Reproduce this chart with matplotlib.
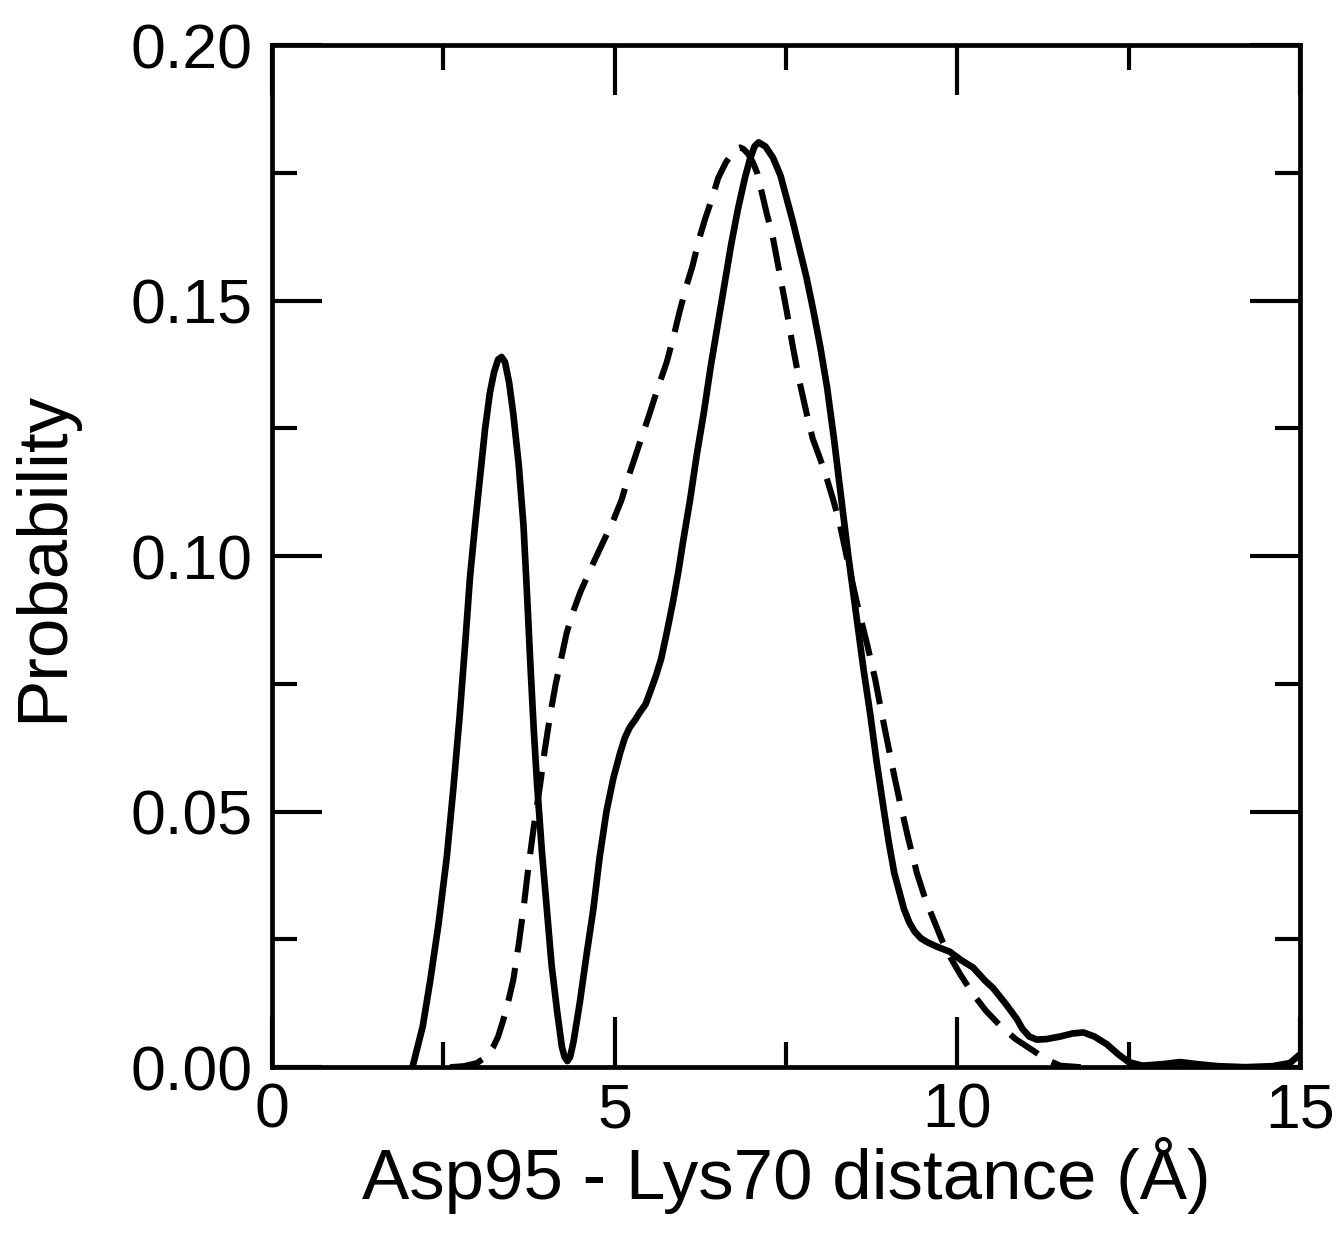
import matplotlib
matplotlib.use("Agg")
import matplotlib.pyplot as plt
from matplotlib.ticker import MultipleLocator

plt.rcParams['font.family'] = ['Liberation Sans', 'DejaVu Sans']

# solid curve
solid_x = [2.05, 2.2, 2.31, 2.43, 2.55, 2.65, 2.74, 2.82, 2.89, 2.97, 3.04, 3.11, 3.18, 3.24,
           3.30, 3.35, 3.40, 3.46, 3.52, 3.60, 3.67, 3.72, 3.77, 3.82, 3.87, 3.94, 4.01, 4.08,
           4.16, 4.23, 4.27, 4.31, 4.35, 4.40, 4.49, 4.59, 4.69, 4.78, 4.88, 4.98, 5.08, 5.15,
           5.22, 5.30, 5.37, 5.45, 5.52, 5.60, 5.68, 5.76, 5.85, 5.93, 6.00, 6.10, 6.20, 6.30,
           6.40, 6.50, 6.60, 6.70, 6.80, 6.90, 6.97, 7.04, 7.10, 7.20, 7.31, 7.42, 7.51, 7.60,
           7.70, 7.80, 7.90, 8.00, 8.10, 8.20, 8.30, 8.41, 8.53, 8.63, 8.73, 8.82, 8.92, 9.00,
           9.08, 9.16, 9.22, 9.30, 9.38, 9.47, 9.57, 9.70, 9.89, 10.05, 10.23, 10.40, 10.52,
           10.70, 10.87, 10.95, 11.05, 11.16, 11.30, 11.50, 11.68, 11.84, 12.0, 12.18, 12.35,
           12.5, 12.7, 13.0, 13.25, 13.5, 13.8, 14.2, 14.6, 14.85, 15.0]
solid_y = [0.0, 0.008, 0.017, 0.028, 0.041, 0.055, 0.069, 0.083, 0.096, 0.107, 0.116, 0.125, 0.132, 0.136,
           0.1385, 0.139, 0.138, 0.134, 0.128, 0.118, 0.106, 0.093, 0.079, 0.066, 0.055, 0.042, 0.031, 0.020,
           0.011, 0.004, 0.002, 0.0012, 0.002, 0.005, 0.0125, 0.022, 0.031, 0.041, 0.050, 0.0565, 0.0615, 0.0645,
           0.0665, 0.068, 0.0695, 0.071, 0.0735, 0.0765, 0.080, 0.085, 0.091, 0.097, 0.103, 0.111, 0.120, 0.128,
           0.137, 0.145, 0.153, 0.161, 0.168, 0.174, 0.1775, 0.1802, 0.181, 0.1802, 0.178, 0.1745, 0.170, 0.1655,
           0.160, 0.1545, 0.148, 0.141, 0.133, 0.123, 0.112, 0.100, 0.088, 0.078, 0.069, 0.060, 0.051, 0.044,
           0.038, 0.034, 0.031, 0.0283, 0.0265, 0.0252, 0.0244, 0.0236, 0.0226, 0.021, 0.0195, 0.017, 0.0155,
           0.0125, 0.0094, 0.0075, 0.006, 0.0054, 0.0055, 0.006, 0.0066, 0.0068, 0.006, 0.0045, 0.0025,
           0.001, 0.0003, 0.0006, 0.001, 0.0006, 0.0002, 0.0, 0.0002, 0.0008, 0.0025]

# dashed curve
dash_x = [2.6, 2.8, 2.99, 3.12, 3.23, 3.30, 3.37, 3.45, 3.52, 3.60, 3.67, 3.74, 3.82, 3.91, 3.98,
          4.06, 4.14, 4.22, 4.30, 4.39, 4.50, 4.60, 4.70, 4.84, 4.98, 5.10, 5.20, 5.30, 5.40, 5.50,
          5.62, 5.76, 5.86, 5.95, 6.05, 6.14, 6.23, 6.32, 6.42, 6.51, 6.62, 6.72, 6.78, 6.83, 6.88,
          6.95, 7.02, 7.08, 7.15, 7.22, 7.30, 7.37, 7.44, 7.51, 7.60, 7.70, 7.80, 7.89, 8.00, 8.10,
          8.19, 8.29, 8.40, 8.55, 8.68, 8.80, 8.90, 8.99, 9.08, 9.16, 9.28, 9.41, 9.53, 9.65, 9.77,
          9.89, 10.05, 10.23, 10.42, 10.62, 10.85, 11.1, 11.3, 11.5, 11.8]
dash_y = [0.0, 0.0002, 0.0008, 0.002, 0.004, 0.006, 0.009, 0.013, 0.017, 0.024, 0.031, 0.039, 0.047, 0.055, 0.062,
          0.069, 0.075, 0.080, 0.085, 0.089, 0.093, 0.096, 0.099, 0.103, 0.107, 0.111, 0.1155, 0.1195, 0.1235, 0.1275,
          0.1325, 0.138, 0.143, 0.148, 0.153, 0.157, 0.162, 0.166, 0.170, 0.174, 0.177, 0.179, 0.1798, 0.180, 0.1797,
          0.1787, 0.177, 0.175, 0.171, 0.167, 0.163, 0.158, 0.153, 0.148, 0.141, 0.134, 0.128, 0.123, 0.119, 0.115,
          0.111, 0.106, 0.099, 0.090, 0.083, 0.076, 0.069, 0.063, 0.057, 0.052, 0.045, 0.038, 0.033, 0.029, 0.025,
          0.0217, 0.018, 0.0143, 0.011, 0.0082, 0.0055, 0.0033, 0.0015, 0.0003, 0.0]

fig = plt.figure(figsize=(13.43, 12.57), dpi=100)
ax = fig.add_axes([0.2025, 0.151, 0.7655, 0.813])

ax.plot(solid_x, solid_y, color='black', lw=4.8, solid_joinstyle='round')
ax.plot(dash_x, dash_y, color='black', lw=4.4, linestyle=(0, (5.5, 2.6)))

ax.set_xlim(0, 15)
ax.set_ylim(0, 0.20)
ax.xaxis.set_major_locator(MultipleLocator(5))
ax.xaxis.set_minor_locator(MultipleLocator(2.5))
ax.yaxis.set_major_locator(MultipleLocator(0.05))
ax.yaxis.set_minor_locator(MultipleLocator(0.025))
ax.yaxis.set_major_formatter(plt.FormatStrFormatter('%.2f'))

ax.tick_params(which='both', direction='in', top=True, right=True, width=3, labelsize=45)
ax.tick_params(which='major', length=36)
ax.tick_params(which='minor', length=18)
ax.tick_params(axis='y', pad=14)
ax.tick_params(axis='x', pad=10)
for s in ax.spines.values():
    s.set_linewidth(3.4)

ax.set_xlabel("Asp95 - Lys70 distance (Å)", fontsize=51, labelpad=-2)
ax.set_ylabel("Probability", fontsize=51, labelpad=38)

plt.savefig("out.png", dpi=100)
